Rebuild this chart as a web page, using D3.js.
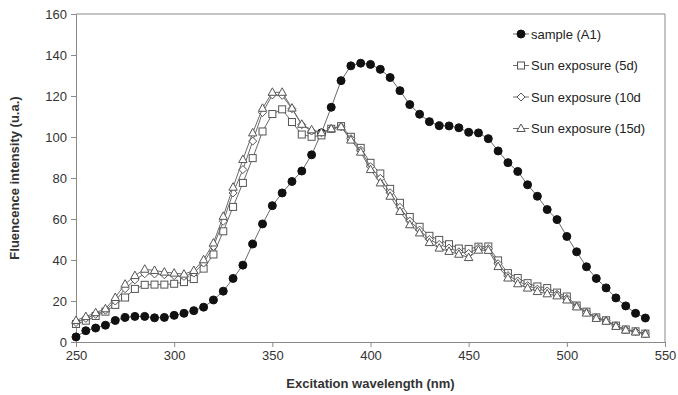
<!DOCTYPE html>
<html><head><meta charset="utf-8">
<script src="https://cdn.jsdelivr.net/npm/d3@7"></script>
<style>
body{margin:0;background:#fff;}
svg{display:block;font-family:"Liberation Sans",Arial,sans-serif;}
</style></head>
<body>
<svg id="chart" width="678" height="395"></svg>
<script>
const wavelengths = d3.range(250, 541, 5);
const seriesNames = ["sample (A1)", "Sun exposure (5d)", "Sun exposure (10d", "Sun exposure (15d)"];
const sampleA1 = [2.5,5.5,6.8,8.2,10.5,12,12.5,12.5,11.8,12,13,14,15.3,17,20.5,24.8,31,37.5,47.8,57.6,66.5,72.7,78.3,83.4,91.3,102,114.5,127.5,134.7,136,135.4,133,129,122.6,115.8,111.1,107.5,105.5,105.4,104.5,102.3,102,99.2,93.2,87.5,83.2,76.7,71.1,64.6,59.7,51.5,44,36.7,31,26.4,21.5,17.6,14,11.7];
const sun5d = [8.8,10.4,12.7,14.8,18.1,21.7,25.9,27.9,28,28,28.4,29.2,30.7,35.8,42.7,54,65.9,77.6,89.7,102.7,111.2,113.5,107.3,101.2,100.1,100.8,104,105.3,100.1,94.7,87.4,82.2,74.7,67.9,61,56.2,51.8,49.8,47.7,45.6,45.4,46.5,46.6,39.8,33.6,31.2,28.7,27.1,26.3,24.1,22.2,17.8,14.8,12,10.6,8,6.1,5.2,4.1];
const sun10d = [9.5,11.5,13.5,15.5,20,26,30.3,33.3,33.2,32.8,32.4,32,33.6,38.5,46.6,58.9,72.7,84.1,98,111.9,120.5,120.3,113.8,106,102.9,102.1,104,105,99.2,93.6,85.5,79.8,72.8,65.7,59,54.6,50,47.6,45.8,44,43.2,45.8,45.6,38.2,32.4,29.8,27.5,25.8,24.9,23.3,21.3,17.5,14.5,11.8,10.4,7.9,6,5.1,4];
const sun15d = [10.5,12.4,14.3,16.2,21.7,28.2,32.4,35.5,34.9,34.1,33.6,33.1,34.9,40.1,48.3,61.3,75.5,89,102,114,121.8,121.8,114.1,106.2,103.5,102.1,104,105,98.5,92.6,84.1,77.6,71.1,63.7,57.2,53.2,48.5,45.8,44.2,42.8,41.2,44.8,44.7,36.8,31.2,28.4,26.3,24.6,23.5,22.5,20.5,17.1,14.1,11.5,10.1,7.6,5.8,4.9,3.8];
const xTicks = [250,300,350,400,450,500,550];
const yTicks = [0,20,40,60,80,100,120,140,160];

const svg = d3.select("#chart");
const L = 76, R = 665, T = 14, B = 342;
const x = d3.scaleLinear().domain([250,550]).range([L,R]);
const y = d3.scaleLinear().domain([0,160]).range([B,T]);
const axisColor = "#8a8a8a";

// frame (top & right)
svg.append("path").attr("d", `M${L},${T}H${R}V${B}`).attr("fill","none").attr("stroke",axisColor).attr("stroke-width",1);

const gx = svg.append("g").attr("transform",`translate(0,${B})`)
  .call(d3.axisBottom(x).tickValues(xTicks).tickSize(5).tickPadding(4).tickFormat(d3.format("d")));
const gy = svg.append("g").attr("transform",`translate(${L},0)`)
  .call(d3.axisLeft(y).tickValues(yTicks).tickSize(5).tickPadding(4).tickFormat(d3.format("d")));
[gx,gy].forEach(g=>{
  g.select(".domain").attr("stroke",axisColor);
  g.selectAll(".tick line").attr("stroke",axisColor);
  g.selectAll(".tick text").attr("fill","#333").style("font-size","13px").style("font-family","'Liberation Sans',Arial,sans-serif");
});

svg.append("text").attr("x",(L+R)/2).attr("y",388).attr("text-anchor","middle")
  .style("font-size","13px").style("font-weight","bold").attr("fill","#333")
  .text("Excitation wavelength (nm)");
svg.append("text").attr("transform",`translate(19,${(T+B)/2}) rotate(-90)`).attr("text-anchor","middle")
  .style("font-size","13px").style("font-weight","bold").attr("fill","#333")
  .text("Fluencence intensity (u.a.)");

const seriesData = [sampleA1, sun5d, sun10d, sun15d];
const shapes = ["circle","square","diamond","triangle"];
const lineColor = "#6a6a6a";
const markStroke = "#555";

function drawMarker(g, shape, cx, cy) {
  if (shape === "circle") {
    g.append("circle").attr("cx",cx).attr("cy",cy).attr("r",4).attr("fill","#111").attr("stroke","#111");
  } else if (shape === "square") {
    g.append("rect").attr("x",cx-3.5).attr("y",cy-3.5).attr("width",7).attr("height",7)
      .attr("fill","#fff").attr("stroke",markStroke).attr("stroke-width",1);
  } else if (shape === "diamond") {
    g.append("path").attr("d",`M${cx},${cy-4}L${cx+4},${cy}L${cx},${cy+4}L${cx-4},${cy}Z`)
      .attr("fill","#fff").attr("stroke",markStroke).attr("stroke-width",1);
  } else {
    g.append("path").attr("d",`M${cx},${cy-4.5}L${cx+4.2},${cy+3}L${cx-4.2},${cy+3}Z`)
      .attr("fill","#fff").attr("stroke",markStroke).attr("stroke-width",1);
  }
}

const line = d3.line().x((d,i)=>x(wavelengths[i])).y(d=>y(d));
seriesData.forEach((vals, si) => {
  const g = svg.append("g");
  g.append("path").attr("d", line(vals)).attr("fill","none").attr("stroke",lineColor).attr("stroke-width",1);
  vals.forEach((v,i)=> drawMarker(g, shapes[si], x(wavelengths[i]), y(v)));
});

// legend
const legendY = [34, 65.5, 97, 128.5];
seriesNames.forEach((name, i) => {
  const g = svg.append("g");
  g.append("line").attr("x1",513).attr("x2",529).attr("y1",legendY[i]).attr("y2",legendY[i]).attr("stroke",lineColor);
  drawMarker(g, shapes[i], 521, legendY[i]);
  g.append("text").attr("x",531).attr("y",legendY[i]+4.5).style("font-size","13px").attr("fill","#222").text(name);
});
</script>
</body></html>
